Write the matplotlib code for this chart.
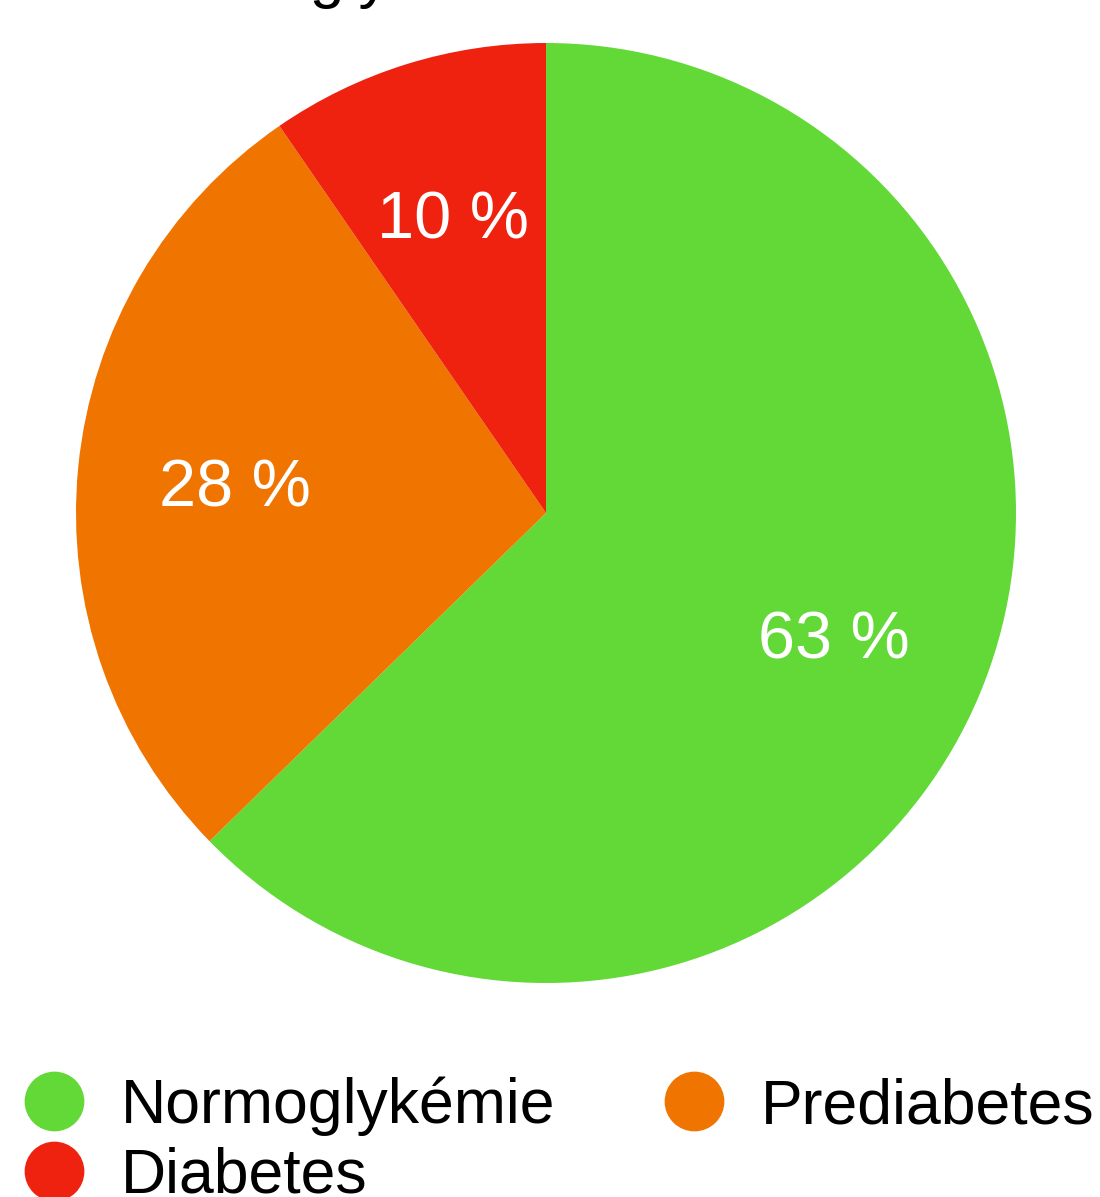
import matplotlib.pyplot as plt
from matplotlib.lines import Line2D

plt.rcParams['font.family'] = ['Liberation Sans', 'DejaVu Sans']

# data (share of patients)
categories = ['Normoglykémie', 'Prediabetes', 'Diabetes']
values = [62.7, 27.7, 9.6]
labels = ['63 %', '28 %', '10 %']
colors = ['#62D936', '#F07400', '#EF2210']

W, H = 1100, 1197
fig = plt.figure(figsize=(W / 100, H / 100), dpi=100)

# pie axes, centre at (546, 513) px, radius 470 px
cx, cy, r = 546, 513, 470
ax = fig.add_axes([(cx - r) / W, (H - cy - r) / H, 2 * r / W, 2 * r / H])
wedges, texts = ax.pie(values, colors=colors, startangle=90, counterclock=False,
                       labels=labels, labeldistance=0.665,
                       textprops=dict(color='white', fontsize=48, ha='center',
                                      va='center_baseline'),
                       wedgeprops=dict(linewidth=0))
ax.set_xlim(-1, 1)
ax.set_ylim(-1, 1)
ax.set_aspect('equal')
ax.axis('off')

# clipped title, only descenders visible at the top edge
fig.text(0.309, 1.0 + 4 / H, 'Normoglykémie', ha='center', va='baseline',
         fontsize=45, color='black')

# legend, row-major order
order = [0, 2, 1]
handles = [Line2D([], [], linestyle='none', marker='o', markersize=42,
                  markerfacecolor=colors[i], markeredgecolor=colors[i]) for i in order]
leg = fig.legend(handles, [categories[i] for i in order], ncol=2,
                 loc='upper left', bbox_to_anchor=(10 / W, 1 - 1064 / H),
                 frameon=False, fontsize=45, handlelength=1.0, handletextpad=0.57,
                 columnspacing=1.72, labelspacing=0.17, borderaxespad=0, borderpad=0.2)

fig.savefig('out.png', dpi=100)
